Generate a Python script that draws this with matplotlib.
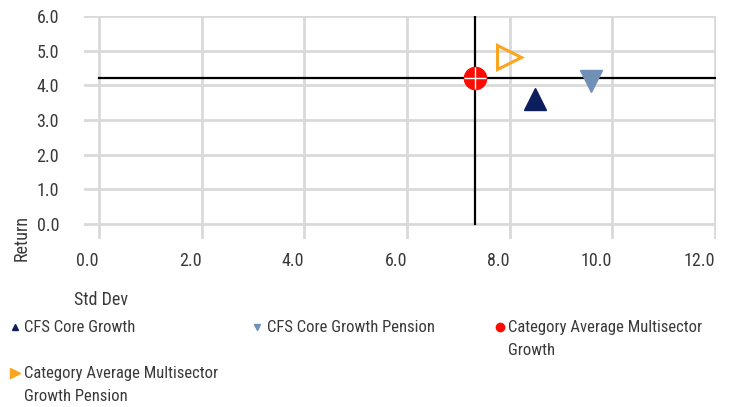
import matplotlib.pyplot as plt
from matplotlib.lines import Line2D

plt.rcParams['font.family'] = ['Roboto Condensed', 'Archivo Narrow', 'DejaVu Sans']

# data
names = ["CFS Core Growth", "CFS Core Growth Pension",
         "Category Average Multisector Growth",
         "Category Average Multisector Growth Pension"]
std_dev = [8.50, 9.58, 7.33, 7.98]
ret = [3.60, 4.13, 4.20, 4.81]
x_ticks = [0.0, 2.0, 4.0, 6.0, 8.0, 10.0, 12.0]
y_ticks = [0.0, 1.0, 2.0, 3.0, 4.0, 5.0, 6.0]
avg_std = 7.33
avg_ret = 4.20

colors = ['#0c1f5c', '#7190b8', '#ff0a00', '#f9a51f']
markers = ['^', 'v', 'o', '>']
txt = '#3a3a3a'

W, H = 729, 407
fig = plt.figure(figsize=(W / 100, H / 100), dpi=100)
ax = fig.add_axes([84 / W, 1 - 239 / H, (716 - 84) / W, (239 - 16) / H])

ax.set_xlim(-0.29, 12.02)
ax.set_ylim(-0.43, 6.0)
ax.set_xticks(x_ticks)
ax.set_yticks(y_ticks)
ax.set_xticklabels(['%.1f' % v for v in x_ticks], ha='right')
ax.set_yticklabels(['%.1f' % v for v in y_ticks])
ax.tick_params(length=0, labelsize=13, colors=txt)
ax.tick_params(axis='x', pad=9)
ax.tick_params(axis='y', pad=18)
ax.grid(color='#d9d9d9', lw=2)
ax.set_axisbelow(True)
for s in ax.spines.values():
    s.set_visible(False)

# cross lines through the category average
ax.plot([0, 12.02], [avg_ret, avg_ret], color='black', lw=1.6, zorder=2)
ax.plot([avg_std, avg_std], [0, 6.0], color='black', lw=1.6, zorder=2)

# points
for i in range(4):
    if markers[i] == '>':
        ax.plot(std_dev[i], ret[i], marker='>', ms=17, mfc='none',
                mec=colors[i], mew=2.2, ls='none', zorder=3)
    else:
        ax.plot(std_dev[i], ret[i], marker=markers[i], ms=16,
                color=colors[i], ls='none', zorder=3)
ax.plot(std_dev[2], ret[2], marker='+', ms=16, mew=1.0, color='white',
        ls='none', zorder=4)

# axis titles
fig.text(22 / W, 1 - 238 / H, 'Return', rotation=90, ha='center', va='center',
         fontsize=13, color=txt)
fig.text(74 / W, 1 - 300 / H, 'Std Dev', ha='left', va='center',
         fontsize=13, color=txt)

# legend drawn by hand
leg = [
    (15, 327, 24, 'CFS Core Growth'),
    (257, 327, 267, 'CFS Core Growth Pension'),
    (500, 327, 508, 'Category Average Multisector\nGrowth'),
    (15, 373, 24, 'Category Average Multisector\nGrowth Pension'),
]
leg_ms = [5, 5, 6, 7]
for i, (mx, my, tx, label) in enumerate(leg):
    fig.add_artist(Line2D([mx / W], [1 - my / H], marker=markers[i],
                          ms=leg_ms[i], color=colors[i], ls='none',
                          transform=fig.transFigure))
    fig.text(tx / W, 1 - (my - 7) / H, label, ha='left', va='top',
             fontsize=12, color=txt, linespacing=1.65)

plt.savefig('out.png', dpi=100)
